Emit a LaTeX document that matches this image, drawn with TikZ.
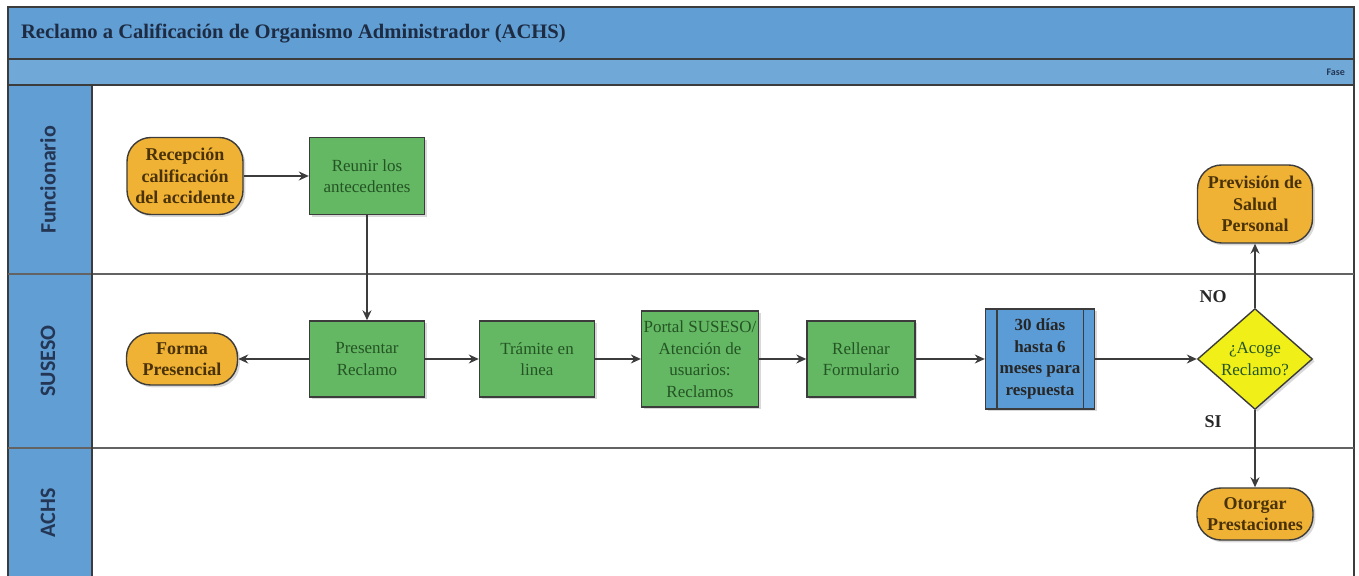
\documentclass[tikz,border=0pt]{standalone}
\usepackage{fontspec}
\setmainfont{Liberation Serif}
\newfontfamily\lanefont{Carlito}
\usetikzlibrary{shapes.geometric,arrows.meta,shadows}
\definecolor{banda}{RGB}{96,158,212}
\definecolor{verde}{RGB}{100,184,100}
\definecolor{naranja}{RGB}{240,178,52}
\definecolor{amarillo}{RGB}{240,240,24}
\definecolor{azul}{RGB}{92,156,214}
\definecolor{borde}{RGB}{60,60,60}
\definecolor{tverde}{RGB}{36,84,36}
\definecolor{tnaranja}{RGB}{74,50,8}
\definecolor{tcarril}{RGB}{36,54,84}
\tikzset{
	sombra/.style={drop shadow={opacity=0.3, shadow xshift=1.2pt, shadow yshift=-1.2pt}},
	terminal/.style={draw=borde, line width=0.7pt, fill=naranja, rounded corners=12pt, align=center, inner sep=1pt,
		font=\bfseries\fontsize{9}{10.75}\selectfont, text=tnaranja, sombra},
	proceso/.style={draw=borde, line width=0.7pt, fill=verde, align=center, inner sep=1pt,
		font=\fontsize{8.5}{10.75}\selectfont, text=tverde, sombra},
	espera/.style={draw=borde, line width=0.7pt, fill=azul, align=center, inner sep=1pt,
		font=\bfseries\fontsize{8.5}{10.75}\selectfont, text=black!85, sombra},
	decision/.style={diamond, draw=borde, line width=0.7pt, fill=amarillo, align=center, inner sep=0pt,
		font=\fontsize{8.5}{10.75}\selectfont, text=tverde, sombra},
	carril/.style={rotate=90, font=\lanefont\bfseries\fontsize{11}{13}\selectfont, text=tcarril},
	flecha/.style={->, draw=borde, line width=0.7pt},
}
\begin{document}
\begin{tikzpicture}[x=0.5pt, y=-0.5pt, >={Stealth[length=5pt,width=4.5pt]}]
		\useasboundingbox (0,0) rectangle (1359,576);
		\clip (0,0) rectangle (1359,576);
		% marco y carriles
		\fill[banda] (8,7) rectangle (1354,59);
		\fill[banda!90] (8,59) rectangle (1354,85);
		\fill[banda] (8,85) rectangle (92,600);
		\draw[borde, line width=0.8pt] (8,7) rectangle (1354,600);
		\foreach \y in {59,85}{
			\draw[borde, line width=0.8pt] (8,\y) -- (1354,\y);
		}
		\foreach \y in {274,448}{
			\draw[borde!80, line width=0.6pt] (8,\y) -- (1354,\y);
		}
		\draw[borde, line width=0.8pt] (92,85) -- (92,600);
		\node[anchor=west, font=\bfseries\fontsize{10.3}{12}\selectfont, text=tcarril!80!black] (titulo) at (14,34)
			{Reclamo a Calificación de Organismo Administrador (ACHS)};
		\node[anchor=east, font=\lanefont\bfseries\fontsize{5}{6}\selectfont, text=tcarril] (fase) at (1352,72) {Fase};
		\foreach \y/\t in {180/Funcionario, 361/SUSESO, 513/ACHS}{
			\node[carril] at (48,\y) {\t};
		}
		% nodos
		\node[terminal, minimum width=58pt, minimum height=38.5pt] (recepcion) at (185,176) {Recepción\\calificación\\del accidente};
		\node[proceso, minimum width=57.5pt, minimum height=38.5pt] (reunir) at (367,176) {Reunir los\\antecedentes};
		\node[proceso, minimum width=57.5pt, minimum height=38pt] (presentar) at (367,359) {Presentar\\Reclamo};
		\node[terminal, minimum width=55.5pt, minimum height=26pt] (forma) at (182,359) {Forma\\Presencial};
		\node[proceso, minimum width=57.5pt, minimum height=38pt] (tramite) at (537,359) {Trámite en\\linea};
		\node[proceso, minimum width=55pt, minimum height=48pt] (portal) at (700,359) {Portal SUSESO/\\Atención de\\usuarios:\\Reclamos};
		\node[proceso, minimum width=54pt, minimum height=38pt] (rellenar) at (861,359) {Rellenar\\Formulario};
		\node[espera, minimum width=54.5pt, minimum height=50pt] (dias) at (1040,359) {30 días\\hasta 6\\meses para\\respuesta};
		\draw[borde, line width=0.7pt] ([xshift=6pt]dias.north west) -- ([xshift=6pt]dias.south west);
		\draw[borde, line width=0.7pt] ([xshift=-6pt]dias.north east) -- ([xshift=-6pt]dias.south east);
		\node[decision, minimum width=57.5pt, minimum height=38pt] (acoge) at (1255,359) {¿Acoge\\Reclamo?};
		\node[terminal, minimum width=57.5pt, minimum height=39pt] (prevision) at (1255,204) {Previsión de\\Salud\\Personal};
		\node[terminal, minimum width=58pt, minimum height=26pt] (otorgar) at (1255,514) {Otorgar\\Prestaciones};
		% conectores
		\draw[flecha] (recepcion) -- (reunir);
		\draw[flecha] (reunir) -- (presentar);
		\draw[flecha] (presentar) -- (forma);
		\draw[flecha] (presentar) -- (tramite);
		\draw[flecha] (tramite) -- (portal);
		\draw[flecha] (portal) -- (rellenar);
		\draw[flecha] (rellenar) -- (dias);
		\draw[flecha] (dias) -- (acoge);
		\draw[flecha] (acoge) -- (prevision);
		\draw[flecha] (acoge) -- (otorgar);
		\node[font=\bfseries\fontsize{9}{10}\selectfont, text=black!85] (no) at (1213,297) {NO};
		\node[font=\bfseries\fontsize{9}{10}\selectfont, text=black!85] (si) at (1213,422) {SI};
\end{tikzpicture}
\end{document}
